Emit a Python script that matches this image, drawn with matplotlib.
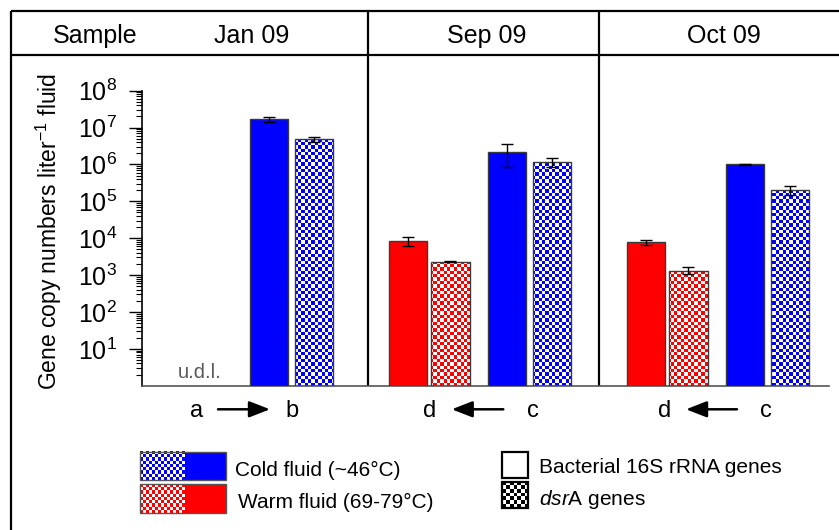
import numpy as np
import matplotlib
matplotlib.use("Agg")
import matplotlib.pyplot as plt
from matplotlib.image import BboxImage
from matplotlib.patches import Rectangle
from matplotlib.ticker import FixedLocator, LogLocator, NullFormatter, FuncFormatter

plt.rcParams['font.family'] = ['Liberation Sans', 'DejaVu Sans']
plt.rcParams['mathtext.fontset'] = 'custom'
plt.rcParams['mathtext.rm'] = 'Liberation Sans'
plt.rcParams['mathtext.it'] = 'Liberation Sans:italic'
plt.rcParams['mathtext.bf'] = 'Liberation Sans:bold'

# ---------------- data ----------------
samples = ['Jan 09', 'Sep 09', 'Oct 09']
warm_16s = [np.nan, 8.4e3, 7.7e3]
warm_16s_err = [np.nan, 2.3e3, 1.3e3]
warm_dsr = [np.nan, 2.3e3, 1.33e3]
warm_dsr_err = [np.nan, 0.1e3, 0.28e3]
cold_16s = [1.7e7, 2.2e6, 1.0e6]
cold_16s_err = [0.28e7, 1.35e6, 0.03e6]
cold_dsr = [4.9e6, 1.17e6, 2.0e5]
cold_dsr_err = [0.8e6, 0.3e6, 0.55e5]
ytick_vals = [1e1, 1e2, 1e3, 1e4, 1e5, 1e6, 1e7, 1e8]
transitions = [('a', 'b', 'right'), ('d', 'c', 'left'), ('d', 'c', 'left')]
udl_label = 'u.d.l.'

BLUE = '#0000FF'
RED = '#FF0000'

W, H = 839, 530
fig = plt.figure(figsize=(W / 100, H / 100), dpi=100)

# overlay axes in pixel coordinates for frame, headers and legend
ov = fig.add_axes([0, 0, 1, 1], zorder=0)
ov.set_axis_off()

# main axes
ax_l, ax_r, ax_t, ax_b = 141.5, 829, 90.7, 385.7
ax = fig.add_axes([ax_l / W, 1 - ax_b / H, (ax_r - ax_l) / W, (ax_b - ax_t) / H], zorder=1)
ax.patch.set_alpha(0)
ax.set_yscale('log')
ymin, ymax = 1, 1e8
ax.set_ylim(ymin, ymax)
ax.set_xlim(-0.418, 2.471)

x = np.arange(len(samples))
offs = [-0.298, -0.120, 0.118, 0.307]
bw = 0.162


def checker(color, cell_px, w_px, h_px, bg='white'):
    nx = int(np.ceil(w_px / cell_px))
    ny = int(np.ceil(h_px / cell_px))
    ii, jj = np.meshgrid(np.arange(ny), np.arange(nx), indexing='ij')
    mask = (ii + jj) % 2 == 0
    c1 = np.array(matplotlib.colors.to_rgb(color))
    c2 = np.array(matplotlib.colors.to_rgb(bg))
    arr = np.where(mask[..., None], c1, c2)
    return arr


ax_wpx, ax_hpx = ax_r - ax_l, ax_b - ax_t
chk_blue = checker(BLUE, 3.4, ax_wpx, ax_hpx)
chk_red = checker(RED, 3.4, ax_wpx, ax_hpx)

edge = '#3a3a3a'
series = [
    (warm_16s, warm_16s_err, offs[0], RED, None),
    (warm_dsr, warm_dsr_err, offs[1], RED, chk_red),
    (cold_16s, cold_16s_err, offs[2], BLUE, None),
    (cold_dsr, cold_dsr_err, offs[3], BLUE, chk_blue),
]
for vals, errs, off, col, chk in series:
    vals = np.array(vals, dtype=float)
    errs = np.array(errs, dtype=float)
    ok = ~np.isnan(vals)
    xs = x[ok] + off
    fc = col if chk is None else 'none'
    bars = ax.bar(xs, vals[ok] - ymin, bottom=ymin, width=bw, color=fc,
                  edgecolor=edge, linewidth=1.0, zorder=3)
    if chk is not None:
        for b in bars:
            bi = BboxImage(ax.bbox, interpolation='nearest', origin='upper', zorder=2.5)
            bi.set_data(chk)
            bi.set_clip_path(b)
            ax.add_artist(bi)
            bi.set_clip_path(b)
    ax.errorbar(xs, vals[ok], yerr=errs[ok], fmt='none', ecolor='black',
                elinewidth=1.0, capsize=4.3, capthick=1.0, zorder=4)

ax.set_ylim(ymin, ymax)
ax.set_xlim(-0.418, 2.471)

for s in ['top', 'right']:
    ax.spines[s].set_visible(False)
ax.spines['left'].set_color('black')
ax.spines['left'].set_linewidth(1.2)
ax.spines['bottom'].set_color('#555555')
ax.spines['bottom'].set_linewidth(1.2)
ax.set_xticks([])
ax.yaxis.set_major_locator(FixedLocator(ytick_vals))
ax.yaxis.set_major_formatter(FuncFormatter(lambda v, p: r'$\mathregular{10^{%d}}$' % round(np.log10(v))))
ax.yaxis.set_minor_locator(LogLocator(base=10, subs=np.arange(2, 10), numticks=20))
ax.yaxis.set_minor_formatter(NullFormatter())
ax.tick_params(axis='y', which='major', length=9.5, width=1.0, pad=8, labelsize=18, direction='out')
ax.tick_params(axis='y', which='minor', length=4.5, width=0.8, direction='out')

# u.d.l. label for Jan warm fluid
ov.text(200, 378, udl_label, ha='center', va='baseline', fontsize=14.5, color='#595959')

# ---------------- frame ----------------
lw_frame = 1.6
ov.plot([10.5, W], [10.5, 10.5], color='black', lw=lw_frame, solid_capstyle='butt')
ov.plot([10.5, W], [55, 55], color='black', lw=lw_frame, solid_capstyle='butt')
ov.plot([10.5, 10.5], [10.5, H], color='black', lw=lw_frame, solid_capstyle='butt')
for sx in [367.7, 599]:
    ov.plot([sx, sx], [10.5, ax_b], color='black', lw=lw_frame, solid_capstyle='butt')

# headers
ov.text(95, 43, 'Sample', ha='center', va='baseline', fontsize=18)
for lab, hx in zip(samples, [252, 487, 724]):
    ov.text(hx, 43, lab, ha='center', va='baseline', fontsize=18)

# y label
ov.text(49, 231, r'Gene copy numbers liter$^{\mathregular{-1}}$ fluid', rotation=90,
        ha='center', va='center', fontsize=16.5)

# transition arrows
arrow_layout = [(196.7, 218, 270, 291.7), (430, 503.3, 451.7, 533.3), (665, 737, 686, 766)]
for (l1, l2, d), (xa, x0, x1, xb) in zip(transitions, arrow_layout):
    ov.text(xa, 416.7, l1, ha='center', va='baseline', fontsize=17)
    ov.text(xb, 416.7, l2, ha='center', va='baseline', fontsize=17)
    ov.annotate('', xy=(x1, 409.3), xytext=(x0, 409.3),
                arrowprops=dict(arrowstyle='-|>,head_length=0.9,head_width=0.35', lw=1.8,
                                color='black', shrinkA=0, shrinkB=0, mutation_scale=14))

# ---------------- legend ----------------
leg_chk_blue = checker(BLUE, 3.2, 45, 28)
leg_chk_red = checker(RED, 3.2, 45, 28)
for (y0, y1), col, chk in [((451.7, 480), BLUE, leg_chk_blue), ((484.3, 512.7), RED, leg_chk_red)]:
    ov.add_patch(Rectangle((185, y0), 41, y1 - y0, facecolor=col, edgecolor='none'))
    ov.imshow(chk, extent=(140, 185, y1, y0), interpolation='nearest', aspect='auto', zorder=2)
    ov.add_patch(Rectangle((140, y0), 86, y1 - y0, facecolor='none', edgecolor='#555555', lw=1.0, zorder=3))
ov.text(235, 476, 'Cold fluid (~46°C)', ha='left', va='baseline', fontsize=15)
ov.text(238, 508, 'Warm fluid (69-79°C)', ha='left', va='baseline', fontsize=15)

ov.add_patch(Rectangle((501.7, 451.7), 26.6, 26.6, facecolor='white', edgecolor='black', lw=1.6, zorder=3))
bw_chk = checker('black', 4.4, 26.6, 26.6)
ov.imshow(bw_chk, extent=(501.7, 528.3, 508.3, 481.7), interpolation='nearest', aspect='auto', zorder=2)
ov.add_patch(Rectangle((501.7, 481.7), 26.6, 26.6, facecolor='none', edgecolor='black', lw=1.6, zorder=3))
ov.text(539, 473, 'Bacterial 16S rRNA genes', ha='left', va='baseline', fontsize=15)
ov.text(539, 505, r'$\mathit{dsr}$A genes', ha='left', va='baseline', fontsize=15)

ov.set_xlim(0, W)
ov.set_ylim(H, 0)

fig.savefig('out.png', dpi=100)
